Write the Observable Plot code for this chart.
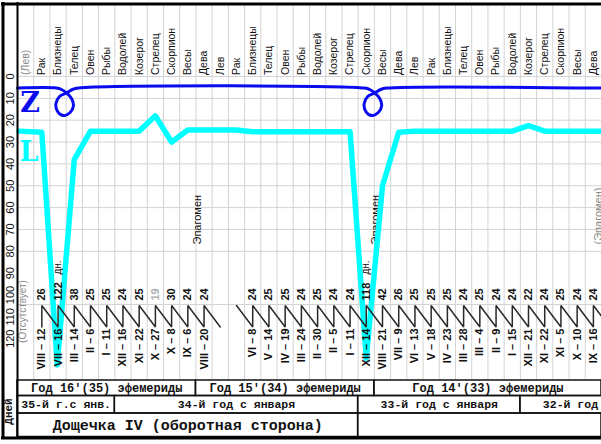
<!DOCTYPE html>
<html><head><meta charset="utf-8">
<script src="https://cdn.jsdelivr.net/npm/d3@7"></script>
<script src="https://cdn.jsdelivr.net/npm/@observablehq/plot@0.6"></script>
<style>
html,body{margin:0;padding:0;background:#fff;}
#chart svg{display:block;}
</style></head><body><div id="chart"></div>
<script>
// ---------- DATA ----------
const signs = ["(Лев)","Рак","Близнецы","Телец","Овен","Рыбы","Водолей","Козерог","Стрелец","Скорпион","Весы","Дева","Лев","Рак","Близнецы","Телец","Овен","Рыбы","Водолей","Козерог","Стрелец","Скорпион","Весы","Дева","Лев","Рак","Близнецы","Телец","Овен","Рыбы","Водолей","Козерог","Стрелец","Скорпион","Весы","Дева"];
const yTicks = [0,10,20,30,40,50,60,70,80,90,100,110,120];

const dateCols = [1,2,3,4,5,6,7,8,9,10,11,14,15,16,17,18,19,20,21,22,23,24,25,26,27,28,29,30,31,32,33,34,35];
const dates = ["VIII – 12","VII – 16","III – 14","II – 6","I – 11","XII – 16","XI – 22","X – 27","X – 8","IX – 6","VIII – 20",
  "VI – 8","V – 14","IV – 19","III – 24","II – 30","II – 5","I – 11","XII – 14","VIII – 21","VII – 9","VI – 13","V – 18","IV – 23","III – 28","III – 4","II – 9","I – 15","XII – 21","XI – 22","XI – 5","X – 10","IX – 16"];
const durations = ["26","122","38","25","25","24","25","19","30","24","24",
  "24","25","25","24","25","24","24","118","42","26","25","25","25","24","25","24","24","22","24","25","24","24"];
const faintDuration = "19";
const daysMarkCols = [2,21];

// L curve (cyan): column position, value
const lX = [0.1,1.5,2.45,3.5,4.5,5.5,6.5,7.5,8.5,9.5,10.5,11.5,12.5,13.5,14.5,15.5,16.5,17.5,18.5,19.5,20.5,21.5,22.5,23.5,24.5,25.5,26.5,27.5,28.5,29.5,30.5,31.5,32.5,33.5,34.5,35.5,36];
const lV = [25,25.5,132,38,25,25,25,25,18,30,24.5,24.5,24.5,24.5,25.3,25.3,25.3,25.3,25.3,25.3,25.3,129,50,25.5,25,25,25,25,25,25,25,22.5,25,25,25,25,25];

// Z curve (blue) with two loops
const zX = [0,2.40,2.71,3.02,3.33,3.45,3.24,2.84,2.47,2.37,2.59,3.02,3.39,3.76,
            21.40,21.71,22.02,22.33,22.45,22.24,21.84,21.47,21.37,21.59,22.02,22.39,22.76,36];
const zV = [5.3,5.3,5.95,7.55,10.1,13.3,16.5,17.9,16.0,12.4,9.15,7.55,5.95,5.3,
            5.3,5.95,7.55,10.1,13.3,16.5,17.9,16.0,12.4,9.15,7.55,5.95,5.3,5.3];

const epagCols = [11.1,22.07,35.82];
const epagLabels = ["Эпагомен","Эпагомен","(Эпагомен)"];

const yearLabels = ["Год 16'(35) эфемериды","Год 15'(34) эфемериды","Год 14'(33) эфемериды"];
const yearSpans = [[0,11],[11,22],[22,36]];
const calLabels = ["35-й г.с янв.","34-й год с января","33-й год с января","32-й год с января"];
const calSpans = [[0,6],[6,21],[21,31],[31,41]];
const tabletLabels = ["Дощечка IV (оборотная сторона)",""];
const tabletSpans = [[0,21],[21,36]];

// ---------- LAYOUT ----------
const COLW = (601 - 17) / 36;
const V = py => (py - 76) / 2.185;     // pixel row -> value units
const C = px => (px - 17) / COLW;       // pixel column -> column units
const gridTop = V(5), gridBot = V(380);
const zigTop = V(305), zigBot = V(326.5);

// zigzag path built from the date columns
const zig = [];
const segA = dateCols.filter(c => c <= 11), segB = dateCols.filter(c => c >= 14);
segA.forEach(c => { zig.push({x:c+0.5,y:zigBot,s:0}); zig.push({x:c+0.5,y:zigTop,s:0}); });
zig.push({x:12.5,y:zigBot,s:0});
zig.push({x:13.5,y:zigTop,s:1});
segB.forEach(c => { zig.push({x:c+0.5,y:zigBot,s:1}); zig.push({x:c+0.5,y:zigTop,s:1}); });
zig.push({x:36.5,y:zigBot,s:1});

const rows = [
  {labels: yearLabels, spans: yearSpans, y1: V(380), y2: V(395.5), size: 12},
  {labels: calLabels, spans: calSpans, y1: V(395.5), y2: V(413), size: 11.5},
  {labels: tabletLabels, spans: tabletSpans, y1: V(413), y2: V(436.5), size: 15}
];
const cells = rows.flatMap(r => r.labels.map((t,i) => ({t, x1:r.spans[i][0], x2:r.spans[i][1], y1:r.y1, y2:r.y2, size:r.size})));

const mono = "'Liberation Mono','Courier New',monospace";
const sans = "'Liberation Sans',Arial,sans-serif";
const serif = "'DejaVu Serif','Liberation Serif',serif";

const chart = Plot.plot({
  width: 601, height: 444, margin: 0,
  x: {domain: [0, 36], range: [17, 601], axis: null},
  y: {domain: [V(0), V(444)], range: [0, 444], axis: null},
  color: {type: "identity"},
  style: {background: "#fff", fontFamily: sans},
  marks: [
    // grid
    Plot.ruleX(d3.range(1, 36), {y1: gridTop, y2: gridBot, stroke: "#d3d3d3", strokeWidth: 1}),
    Plot.ruleY([0,10,20,30,40,50,60,70,80,V(304)], {x1: 0, x2: 36, stroke: "#d3d3d3", strokeWidth: 1}),
    // y tick labels
    Plot.text(yTicks, {x: C(9.5), y: d => d, text: d => String(d), rotate: -90, fontSize: 11, fill: "#111"}),
    // header signs
    Plot.text(signs, {x: (d,i) => i + 0.5, y: V(74.5), text: d => d, rotate: -90, textAnchor: "start",
      fontSize: 10.5, fill: (d,i) => i === 0 ? "#888" : "#111", ariaLabel: "hdr"}),
    // Epagomen labels
    Plot.text(epagLabels, {x: (d,i) => epagCols[i], y: V(244), text: d => d, rotate: -90, textAnchor: "start",
      fontSize: 11, fill: (d,i) => i === 2 ? "#888" : "#111"}),
    // absent label
    Plot.text(["(Отсутствует)"], {x: C(22), y: V(311), text: d => d, rotate: -90, fontSize: 10, fill: "#8a8a8a", ariaLabel: "absent"}),
    // L (cyan) line
    Plot.line(lX, {x: d => d, y: (d,i) => lV[i], stroke: "#00ffff", strokeWidth: 5.5}),
    // Z (blue) line
    Plot.line(zX, {x: d => d, y: (d,i) => zV[i], curve: "catmull-rom", stroke: "#0b0bef", strokeWidth: 3}),
    // Z and L letters
    Plot.text(["Z"], {x: C(29.5), y: V(103), text: d => d, fontSize: 27, fontWeight: "bold", fontFamily: serif, fill: "#0b0bef"}),
    Plot.text(["L"], {x: C(28.5), y: V(152), text: d => d, fontSize: 27, fontWeight: "bold", fontFamily: serif, fill: "#00ffff"}),
    // durations
    Plot.text(durations, {x: (d,i) => dateCols[i] + 0.5, y: V(300), text: d => d, rotate: -90, textAnchor: "start",
      fontSize: 11, fontWeight: "bold", fill: d => d === faintDuration ? "#b0b0b0" : "#111", ariaLabel: "dur"}),
    Plot.text(daysMarkCols, {x: d => d + 0.5, y: V(274), text: () => "дн.", rotate: -90, textAnchor: "start", fontSize: 10, fill: "#111"}),
    // dates
    Plot.text(dates, {x: (d,i) => dateCols[i] + 0.5, y: V(328), text: d => d, rotate: -90, textAnchor: "end",
      fontSize: 11, fontWeight: "bold", fill: "#111"}),
    // zigzag (drawn on top)
    Plot.line(zig, {x: "x", y: "y", z: "s", stroke: "#2a2a2a", strokeWidth: 1.5, strokeLinejoin: "miter"}),
    // bottom table
    Plot.rect(cells, {x1: "x1", x2: "x2", y1: "y1", y2: "y2", fill: "none", stroke: "#111", strokeWidth: 1.5}),
    Plot.text(cells, {x: d => (d.x1 + d.x2) / 2, y: d => (d.y1 + d.y2) / 2, text: "t", fontFamily: mono, fontWeight: "bold",
      fontSize: d => d.size, fill: "#111"}),
    Plot.text(["Дней"], {x: C(7.5), y: V(411), text: d => d, rotate: -90, fontFamily: mono, fontWeight: "bold", fontSize: 11, fill: "#111"}),
    // frame
    Plot.ruleX([0], {y1: V(2), y2: V(439), stroke: "#000", strokeWidth: 2}),
    Plot.ruleX([C(2.5)], {y1: V(2), y2: V(439), stroke: "#000", strokeWidth: 3}),
    Plot.ruleY([V(3.5), V(437.5)], {x1: C(1), x2: C(601), stroke: "#000", strokeWidth: 3})
  ]
});
document.getElementById("chart").appendChild(chart);
const svg = d3.select(chart);
svg.selectAll('g[aria-label="hdr"] text').style("letter-spacing", "1.2px");
svg.selectAll('g[aria-label="absent"] text').style("letter-spacing", "5.6px");
svg.selectAll('g[aria-label="dur"] text').each(function() {
  const t = d3.select(this);
  const k = this.textContent.length > 2 ? 1.15 : 1.5;
  t.attr("transform", (t.attr("transform") || "") + ` scale(${k},1)`);
});
</script></body></html>
